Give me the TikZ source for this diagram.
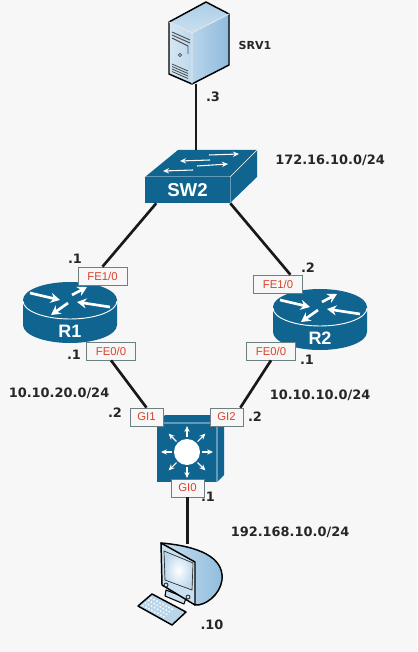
\documentclass[tikz,border=0pt]{standalone}
\usepackage{fontspec}
\usetikzlibrary{calc, arrows.meta}
\setmainfont{Liberation Sans}
\newfontfamily\addrfont{DejaVu Sans}
\definecolor{ciscoblue}{HTML}{0F6490}
\definecolor{paleblue}{HTML}{C9E0F0}
\definecolor{midblue}{HTML}{8FBBDD}
\definecolor{pagegray}{HTML}{F7F7F7}
\definecolor{portred}{HTML}{D8432B}
\tikzset{
    addr/.style = {font = \addrfont\bfseries\fontsize{9.7}{11}\selectfont, text = black!85},
    port/.style = {draw = gray!85!teal, line width = 0.5pt, fill = pagegray, text = portred, inner sep = 0pt,
        minimum height = 13.5pt, minimum width = 37pt, font = \fontsize{8.5}{10}\selectfont},
    gport/.style = {port, minimum width = 25pt},
    wirelink/.style = {line width = 2pt, black!90},
    whitearrow/.style = {-{Stealth[length = 7pt, width = 7.5pt]}, white, line width = 2pt},
    thinarrow/.style = {-{Stealth[length = 4.5pt, width = 4pt]}, white, line width = 0.8pt},
    icon/.style = {draw = black, line width = 1.1pt, line join = round}
}
\newcommand{\drawrouter}[4]{
    \begin{scope}[shift = {(#1,#2)}]
        \fill[ciscoblue] (-47,0) -- (-47,25) arc (180:0:47 and 18) -- (47,0) -- cycle;
        \fill[ciscoblue] (0,0) ellipse (47 and 18);
        \draw[white, line width = 0.7pt] (-47,1) arc (180:0:47 and 18);
        \draw[whitearrow] (-40,-7) -- (-10,0);
        \draw[whitearrow] (2,-5) -- (17,-13);
        \draw[whitearrow] (40,7) -- (7,2);
        \draw[whitearrow] (-2,3) -- (-19,15);
        \node[text = white, font = \bfseries\fontsize{13.5}{15}\selectfont] (#3) at (0,31) {#4};
    \end{scope}
}
\begin{document}
\begin{tikzpicture}[
        > = stealth,
        x = 0.75pt,
        y = -0.75pt
    ]
        \fill[pagegray] (0,0) rectangle (417,652);
        % server
        \fill[left color = paleblue!80!white, right color = paleblue!80!midblue] (169,22) -- (192,33) -- (192,84) -- (169,74) -- cycle;
        \fill[left color = paleblue!70!midblue, right color = midblue] (192,33) -- (229,14) -- (229,65) -- (192,84) -- cycle;
        \fill[top color = midblue!50!paleblue, bottom color = paleblue] (169,22) -- (206,2) -- (229,14) -- (192,33) -- cycle;
        \draw[icon] (169,22) -- (206,2) -- (229,14) -- (229,65) -- (192,84) -- (169,74) -- cycle;
        \draw[white!85!gray, line width = 0.6pt] (169,22) -- (192,33) -- (229,14) (192,33) -- (192,84);
        \draw[black!70, line width = 0.7pt] (172,32) -- (190,40) (172,35) -- (190,43) (172,38) -- (188,46) -- (188,54);
        \draw[black!70, line width = 0.5pt] (180,55) circle (1.6);
        \foreach \i in {0,2.5,5,7.5}
            \draw[black!70, line width = 0.6pt] (172,64+\i) -- (188,71+\i);
        \coordinate (srv) at (196,84);
        \node[font = \addrfont\bfseries\fontsize{8.3}{10}\selectfont, text = black!85] (srvname) at (255,45) {SRV1};
        \node[addr] (srvaddr) at (213,97) {.3};
        % switch
        \fill[ciscoblue] (145,177) -- (178,150) -- (257,150) -- (230,177) -- cycle;
        \fill[ciscoblue] (230,177) -- (257,150) -- (257,177) -- (230,203) -- cycle;
        \draw[white, line width = 0.5pt] (145,177) -- (230,177) -- (257,150) (230,177) -- (230,203);
        \node[fill = ciscoblue, text = white, inner sep = 0pt, minimum width = 63.75pt, minimum height = 19.5pt,
            font = \bfseries\fontsize{14}{16}\selectfont] (sw2) at (187.5,190) {SW2};
        \draw[thinarrow] (209,155) -- (239,154);
        \draw[thinarrow] (210,160) -- (180,161);
        \draw[thinarrow] (197,166) -- (228,164);
        \draw[thinarrow] (193,170) -- (163,171);
        \coordinate (swtop) at (196,150);
        \node[addr] (swnet) at (330,160) {172.16.10.0/24};
        % routers
        \drawrouter{70}{300}{r1}{R1}
        \drawrouter{320}{307}{r2}{R2}
        \node[port] (r1up) at (102.5,276) {FE1/0};
        \node[port] (r1down) at (111,351) {FE0/0};
        \node[port] (r2up) at (278,284) {FE1/0};
        \node[port] (r2down) at (271,351) {FE0/0};
        \node[addr] (r1upaddr) at (75,259) {.1};
        \node[addr] (r1downaddr) at (74,355) {.1};
        \node[addr] (r2upaddr) at (308,268) {.2};
        \node[addr] (r2downaddr) at (307,360) {.1};
        \node[addr] (leftnet) at (59,393) {10.10.20.0/24};
        \node[addr] (rightnet) at (320,395) {10.10.10.0/24};
        % multilayer switch
        \fill[ciscoblue] (157,423) -- (165,415) -- (224,415) -- (217,423) -- cycle;
        \fill[ciscoblue] (217,423) -- (224,415) -- (224,475) -- (217,482) -- cycle;
        \fill[ciscoblue] (157,423) rectangle (217,482);
        \draw[white, line width = 0.5pt] (157,423) -- (217,423) -- (224,415) (217,423) -- (217,482);
        \fill[white] (187,452) circle (13);
        \foreach \a in {0,45,...,315}
            \draw[thinarrow] (187,452) ++(\a:15) -- ++(\a:11);
        \node[gport] (gi1) at (146.5,417) {GI1};
        \node[gport] (gi2) at (226.5,417) {GI2};
        \node[gport] (gi0) at (187.5,488) {GI0};
        \node[addr] (gi1addr) at (115,413) {.2};
        \node[addr] (gi2addr) at (255,417) {.2};
        \node[addr] (gi0addr) at (208,497) {.1};
        % workstation
        \fill[left color = paleblue, right color = midblue, icon] (161,543) .. controls (185,545) and (225,552) .. (222,580)
            .. controls (220,595) and (205,606) .. (195,605) -- cycle;
        \fill[icon, fill = paleblue, line width = 0.8pt] (166,590) -- (165,596) -- (184,604) -- (186,598) -- cycle;
        \fill[paleblue, icon] (161,543) -- (195,562) -- (195,605) -- (162,585) -- cycle;
        \fill[inner color = white, outer color = paleblue!80!midblue, draw = black!80, line width = 0.5pt]
            (164,551) -- (193,563) -- (192,590) -- (165,580) -- cycle;
        \draw[black, line width = 0.5pt, fill = paleblue] (166,585) circle (2) (188,597) circle (2);
        \fill[paleblue!70!midblue, icon] (152,594) -- (186,612) -- (172,625) -- (138,606) -- cycle;
        \foreach \i in {0,...,7}
            \foreach \j in {0,...,3}
                \fill[white] ($(151,598)+(\i*3,\i*1.6)+(\j*-2.7,\j*2.5)$) circle (1);
        \coordinate (pc) at (187.5,544);
        \node[addr] (pcaddr) at (212,625) {.10};
        \node[addr] (pcnet) at (290,532) {192.168.10.0/24};
        % links
        \draw[wirelink] (srv) -- (swtop);
        \draw[wirelink] (sw2.-157) -- (r1up.north);
        \draw[wirelink] (sw2.south east) -- (r2up.37);
        \draw[wirelink] (r1down.south) -- (gi1.north);
        \draw[wirelink] (r2down.south) -- (gi2.34);
        \draw[wirelink] (gi0.south) -- (pc);
    \end{tikzpicture}
\end{document}
